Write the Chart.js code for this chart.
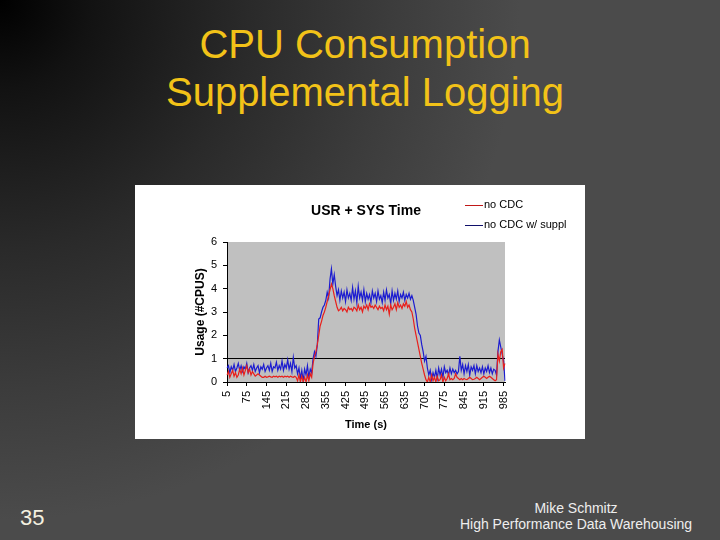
<!DOCTYPE html>
<html>
<head>
<meta charset="utf-8">
<title>CPU Consumption Supplemental Logging</title>
<script src="https://cdn.jsdelivr.net/npm/chart.js@4.4.1/dist/chart.umd.min.js"></script>
<style>
  html, body { margin: 0; padding: 0; }
  body {
    width: 720px; height: 540px; position: relative; overflow: hidden;
    font-family: 'Liberation Sans', Arial, sans-serif;
    background: radial-gradient(circle at 0 0, #000 0px, #121212 90px, #2a2a2a 250px, #3c3c3c 390px, #4b4b4b 520px);
  }
  #slideTitle {
    position: absolute; left: 0; top: 20px; width: 730px;
    text-align: center; color: #f2c218; font-size: 40px; line-height: 48px;
  }
  #chartBox {
    position: absolute; left: 135px; top: 185px; width: 450px; height: 254px; background: #fff;
  }
  #pageNum { position: absolute; left: 20px; top: 505px; color: #f4f1e0; font-size: 22px; }
  #footer {
    position: absolute; left: 426px; top: 500px; width: 300px;
    text-align: center; color: #eee; font-size: 14px; line-height: 16px;
  }
</style>
</head>
<body>
<div id="slideTitle">CPU Consumption<br>Supplemental Logging</div>
<div id="chartBox"><canvas id="cpuChart" width="450" height="254"></canvas></div>
<div id="pageNum">35</div>
<div id="footer">Mike Schmitz<br>High Performance Data Warehousing</div>

<script>
// sample times, every 5 s
const times = Array.from({ length: 198 }, (_, i) => 5 + 5 * i);
const shownTicks = [5, 75, 145, 215, 285, 355, 425, 495, 565, 635, 705, 775, 845, 915, 985];
const yTicks = [0, 1, 2, 3, 4, 5, 6];

const noCdc = [
    0.3, 0.45, 0.2, 0.35, 0.5, 0.25, 0.4, 0.2, 0.3, 0.55,
    0.35, 0.6, 0.3, 0.5, 0.7, 0.4, 0.55, 0.3, 0.45, 0.35,
    0.25, 0.3, 0.35, 0.3, 0.25, 0.2, 0.2, 0.25, 0.2, 0.22,
    0.25, 0.22, 0.2, 0.25, 0.22, 0.25, 0.2, 0.25, 0.22, 0.25,
    0.2, 0.25, 0.22, 0.25, 0.2, 0.25, 0.22, 0.2, 0.25, 0.2,
    0.05, 0.3, 0.0, 0.25, 0.0, 0.2, 0.0, 0.3, 0.05, 0.35,
    0.2, 0.8, 1.1, 1.3, 1.6, 2.0, 2.4, 2.6, 2.85, 3.0,
    3.2, 3.45, 3.7, 3.95, 4.2, 4.0, 3.7, 3.45, 3.2, 3.05,
    3.1, 3.2, 3.05, 3.15, 3.1, 3.0, 3.2, 3.1, 3.15, 3.05,
    3.2, 3.15, 3.05, 3.3, 3.1, 3.2, 3.0, 3.25, 3.15, 3.3,
    3.1, 3.35, 3.2, 3.25, 3.15, 3.3, 3.2, 3.1, 3.25, 3.15,
    3.2, 3.05, 3.3, 3.1, 3.25, 2.9, 3.3, 3.1, 3.2, 3.35,
    3.1, 3.4, 3.2, 3.3, 3.15, 3.35, 3.25, 3.45, 3.2, 3.3,
    3.1, 3.0, 2.7, 2.3, 2.0, 1.7, 1.4, 1.1, 0.8, 0.55,
    0.3, 0.1, 0.0, 0.2, 0.0, 0.3, 0.05, 0.2, 0.0, 0.25,
    0.05, 0.1, 0.3, 0.0, 0.2, 0.05, 0.15, 0.35, 0.1, 0.15,
    0.1, 0.15, 0.35, 0.2, 0.15, 0.1, 0.15, 0.1, 0.15, 0.12,
    0.1, 0.15, 0.2, 0.15, 0.1, 0.12, 0.15, 0.2, 0.15, 0.1,
    0.15, 0.2, 0.25, 0.2, 0.15, 0.2, 0.25, 0.2, 0.15, 0.1,
    0.05, 0.1, 1.2, 0.9, 1.3, 1.4, 0.6, 0.8
];

const noCdcSuppl = [
    0.6, 0.7, 0.4, 0.65, 0.5, 0.75, 0.45, 0.6, 0.8, 0.5,
    0.7, 0.45, 0.65, 0.55, 0.8, 0.4, 0.6, 0.7, 0.5, 0.75,
    0.45, 0.6, 0.7, 0.4, 0.65, 0.55, 0.75, 0.45, 0.6, 0.7,
    0.5, 0.8, 0.45, 0.65, 0.6, 0.85, 0.5, 0.7, 0.55, 0.9,
    0.5, 0.75, 0.6, 0.95, 0.55, 0.8, 0.45, 1.05, 0.6, 0.7,
    0.35, 0.6, 0.15, 0.5, 0.05, 0.55, 0.3, 0.7, 0.2, 0.55,
    0.4, 1.0, 1.3, 1.1, 1.6, 2.7, 2.75, 3.0, 3.2, 3.3,
    3.5, 3.85, 3.6, 4.4, 4.85, 4.2, 4.6, 4.1, 3.7, 3.95,
    3.5, 3.9, 3.6, 3.85, 3.45, 3.95, 3.6, 3.8, 3.5, 4.05,
    3.55, 3.9, 3.4, 4.1, 3.6, 3.85, 3.5, 3.95, 3.45, 3.8,
    3.55, 3.75, 3.4, 3.9, 3.6, 3.8, 3.45, 3.9, 3.55, 3.7,
    3.4, 3.85, 3.5, 3.95, 3.6, 3.75, 3.35, 3.9, 3.5, 3.8,
    3.55, 3.9, 3.45, 3.75, 3.6, 3.85, 3.5, 3.75, 3.6, 3.8,
    3.55, 3.7, 3.5, 3.2, 2.9, 2.4, 2.1, 2.0, 1.6, 1.3,
    0.9, 1.1, 0.6, 0.3, 0.5, 0.1, 0.4, 0.2, 0.5, 0.15,
    0.6, 0.3, 0.55, 0.2, 0.65, 0.4, 0.5, 0.3, 0.6, 0.35,
    0.55, 0.4, 0.5, 0.35, 0.45, 1.1, 0.5, 0.75, 0.35, 0.7,
    0.45, 0.75, 0.3, 0.65, 0.5, 0.7, 0.35, 0.7, 0.45, 0.6,
    0.4, 0.65, 0.35, 0.6, 0.45, 0.7, 0.4, 0.6, 0.35, 0.55,
    0.5, 0.3, 1.3, 1.8, 1.5, 1.2, 0.9, 0.05
];

const chartFont = "'Liberation Sans', Arial, sans-serif";

// grey plot area like the Excel chart
const plotBackground = {
    id: 'plotBackground',
    beforeDraw(chart) {
        const { ctx, chartArea } = chart;
        ctx.save();
        ctx.fillStyle = '#c0c0c0';
        ctx.fillRect(chartArea.left, chartArea.top, chartArea.right - chartArea.left, chartArea.bottom - chartArea.top);
        ctx.restore();
    }
};

// legend sits above the plot, off to the right
const sideLegend = {
    id: 'sideLegend',
    afterDraw(chart) {
        const ctx = chart.ctx;
        ctx.save();
        ctx.font = '11px ' + chartFont;
        ctx.textBaseline = 'middle';
        chart.data.datasets.forEach((ds, i) => {
            const y = 20 + i * 20;
            ctx.strokeStyle = ds.legendColor;
            ctx.lineWidth = 1;
            ctx.beginPath();
            ctx.moveTo(330, y + 0.5);
            ctx.lineTo(348, y + 0.5);
            ctx.stroke();
            ctx.fillStyle = '#000';
            ctx.fillText(ds.label, 349, y);
        });
        ctx.restore();
    }
};

new Chart(document.getElementById('cpuChart'), {
    type: 'line',
    data: {
        labels: times,
        datasets: [{
            label: 'no CDC',
            data: noCdc,
            borderColor: '#e8201c',
            legendColor: '#c01818',
            borderWidth: 1.2,
            pointRadius: 0,
            tension: 0,
            order: 1
        }, {
            label: 'no CDC w/ suppl',
            data: noCdcSuppl,
            borderColor: '#1c1cd0',
            legendColor: '#10106a',
            borderWidth: 1.2,
            pointRadius: 0,
            tension: 0,
            order: 2
        }]
    },
    options: {
        responsive: false,
        animation: false,
        layout: { padding: { left: 55, right: 80, top: 10, bottom: 0 } },
        plugins: {
            legend: { display: false },
            tooltip: { enabled: false },
            title: {
                display: true,
                text: 'USR + SYS Time',
                fullSize: false,
                color: '#000',
                font: { family: chartFont, size: 14, weight: 'bold' },
                padding: { top: 8, bottom: 22.2 }
            }
        },
        scales: {
            x: {
                afterFit: scale => { scale.height = 57; },
                border: { color: '#000', width: 1 },
                grid: {
                    drawOnChartArea: false,
                    tickLength: 4,
                    tickColor: c => shownTicks.includes(times[c.index]) ? '#000' : 'transparent'
                },
                ticks: {
                    autoSkip: false,
                    minRotation: 90,
                    maxRotation: 90,
                    padding: 5,
                    color: '#000',
                    font: { family: chartFont, size: 11 },
                    callback: (v, i) => shownTicks.includes(times[i]) ? String(times[i]) : ''
                },
                title: {
                    display: true,
                    text: 'Time (s)',
                    color: '#000',
                    font: { family: chartFont, size: 11, weight: 'bold' },
                    padding: { top: 0, bottom: 7.4 }
                }
            },
            y: {
                min: 0,
                max: 6,
                afterFit: scale => { scale.width = 37; },
                afterBuildTicks: scale => { scale.ticks = yTicks.map(v => ({ value: v })); },
                border: { color: '#000', width: 1 },
                grid: {
                    tickLength: 4,
                    tickColor: '#000',
                    color: c => c.tick && c.tick.value === 1 ? '#000' : 'transparent'
                },
                ticks: {
                    padding: 6,
                    color: '#000',
                    font: { family: chartFont, size: 11 }
                },
                title: {
                    display: true,
                    text: 'Usage (#CPUS)',
                    color: '#000',
                    font: { family: chartFont, size: 12, weight: 'bold' },
                    padding: { top: 3, bottom: 0 }
                }
            }
        }
    },
    plugins: [plotBackground, sideLegend]
});
</script>
</body>
</html>
